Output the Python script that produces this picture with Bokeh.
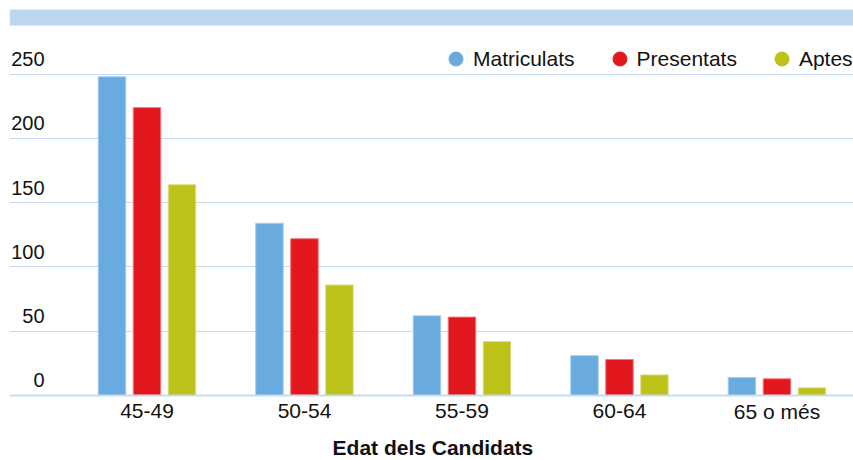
from bokeh.plotting import figure
from bokeh.models import (ColumnDataSource, Range1d, FixedTicker, Label, Span,
                          BoxAnnotation, Legend, LegendItem)
from bokeh.core.properties import value
from bokeh.transform import dodge
from bokeh.embed import file_html
from bokeh.resources import INLINE

categories = ["45-49", "50-54", "55-59", "60-64", "65 o més"]
matriculats = [248, 134, 62, 31, 14]
presentats = [224, 122, 61, 28, 13]
aptes = [164, 86, 42, 16, 6]
y_ticks = [0, 50, 100, 150, 200, 250]
series_names = ["Matriculats", "Presentats", "Aptes"]
colors = ["#6aabdf", "#e3181f", "#bcc21a"]
edges = ["#a6cdef", "#f0787c", "#dbdf86"]
x_title = "Edat dels Candidats"

FONT = "Liberation Sans"
NAN = float("nan")

src = ColumnDataSource(dict(
    x=list(range(len(categories))),
    cat=categories,
    zero=[0] * len(categories),
    Matriculats=matriculats,
    Presentats=presentats,
    Aptes=aptes,
))

p = figure(width=853, height=460, output_backend="svg", toolbar_location=None,
           x_range=Range1d(-0.873, 4.486), y_range=Range1d(-50.58, 307.35),
           min_border_left=9, min_border_right=0, min_border_top=0,
           min_border_bottom=0)
p.outline_line_color = None
p.background_fill_color = "white"
p.border_fill_color = "white"
p.xaxis.visible = False
p.yaxis.visible = False

# grid
p.ygrid.ticker = FixedTicker(ticks=y_ticks)
p.ygrid.grid_line_color = "#c6dbf1"
p.ygrid.grid_line_width = 1
p.xgrid.grid_line_color = None

offsets = [-0.2222, 0.0, 0.2222]
for name, off, c, e in zip(series_names, offsets, colors, edges):
    p.vbar(x=dodge("x", off), top=name, width=0.1746, bottom=0, source=src,
           fill_color=c, line_color=e, line_width=1)

# baseline (axis line)
p.add_layout(Span(location=0, dimension="width", line_color="#c6dbf1", line_width=2))

# category labels
p.text(x="x", y="zero", text="cat", source=src, y_offset=16,
       text_align="center", text_baseline="alphabetic",
       text_font=value(FONT), text_font_size="21px", text_color="#111111")

# legend with circle markers
legend_items = []
for name, c in zip(series_names, colors):
    s = p.scatter(x=[NAN], y=[NAN], marker="circle", size=14,
                  fill_color=c, line_color=c)
    legend_items.append(LegendItem(label=name, renderers=[s]))
legend = Legend(items=legend_items, orientation="horizontal",
                location=(429, 384), border_line_color=None,
                background_fill_alpha=0, padding=0, margin=0,
                spacing=27, label_standoff=0, glyph_width=35, glyph_height=35,
                label_text_font=FONT, label_text_font_size="21px",
                label_text_color="#111111")
p.add_layout(legend, "center")

# band at top
p.add_layout(BoxAnnotation(top=451, bottom=435, top_units="screen",
                           bottom_units="screen", fill_color="#bcd6f0",
                           fill_alpha=1, line_color=None))

# y tick labels above grid lines
for t in y_ticks:
    p.add_layout(Label(x=35, y=t, x_units="screen", y_units="data", text=str(t),
                       text_align="right", text_baseline="alphabetic", y_offset=15,
                       text_font=FONT, text_font_size="20px", text_color="#111111"))

# axis title
p.add_layout(Label(x=423.4, y=13, x_units="screen", y_units="screen", text=x_title,
                   text_align="center", text_baseline="alphabetic",
                   text_font=FONT, text_font_size="21px", text_font_style="bold",
                   text_color="#111111"))

open("out.html", "w").write(file_html(p, INLINE))
